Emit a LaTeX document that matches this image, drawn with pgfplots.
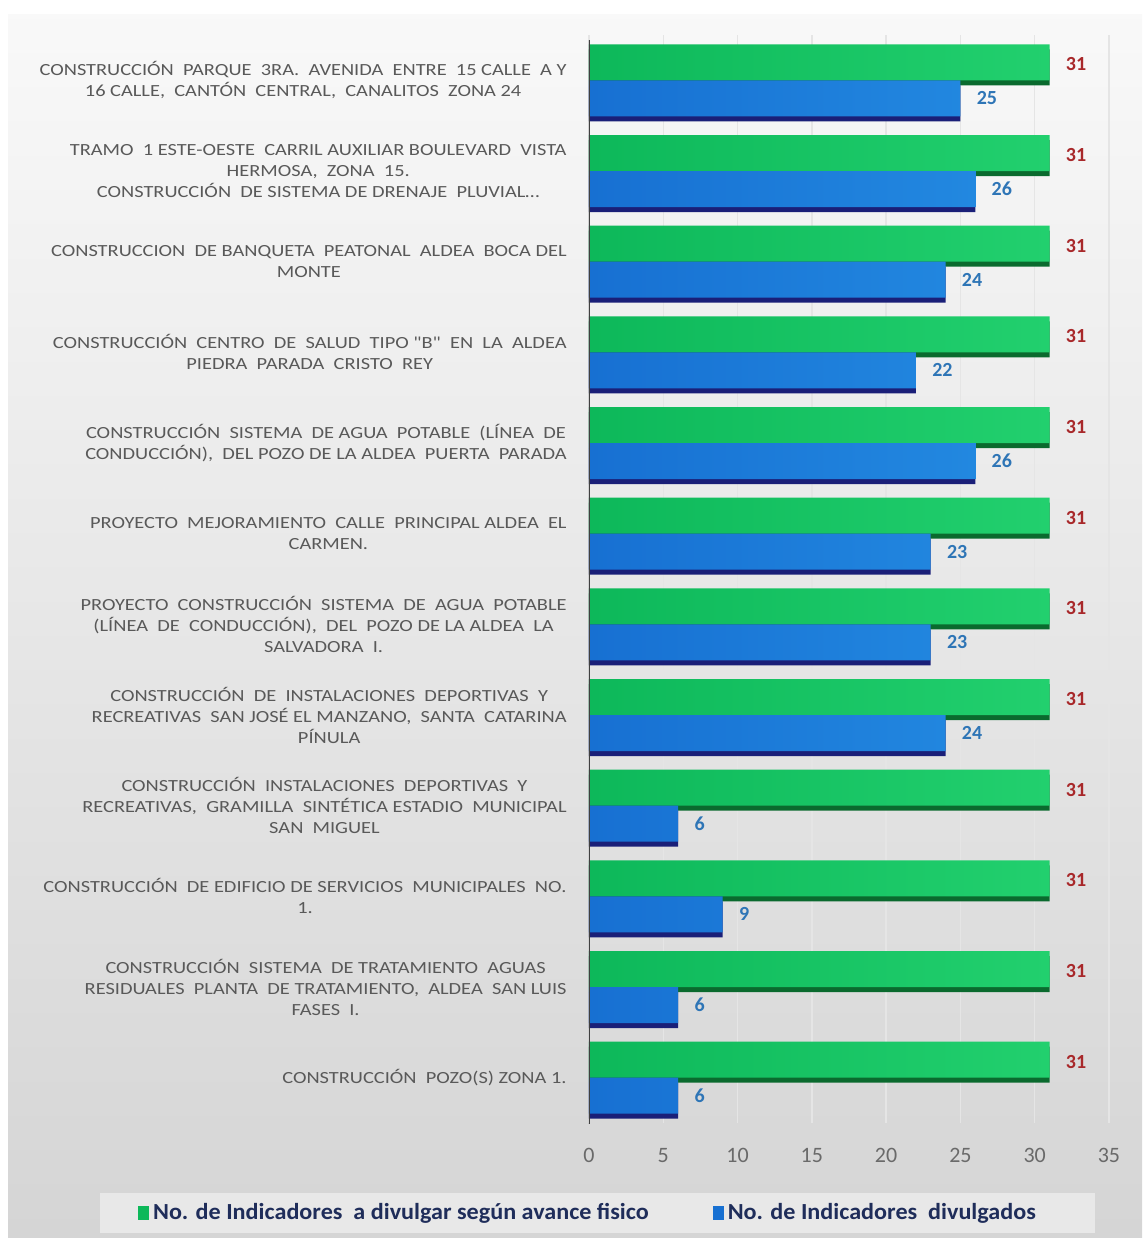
\documentclass[border=0pt]{standalone}
\usepackage{fontspec}
\setmainfont{Carlito}
\newfontfamily\lblfont{Carlito}[FakeStretch=1.2]
\newfontfamily\legfont{Carlito}[FakeStretch=1.05]
\usepackage{pgfplots}
\pgfplotsset{compat=1.18}
\definecolor{gbarL}{HTML}{0DB85A}
\definecolor{gbarR}{HTML}{22D06E}
\definecolor{gdark}{HTML}{0A6A2E}
\definecolor{bbarL}{HTML}{1770D2}
\definecolor{bbarR}{HTML}{2288E0}
\definecolor{bdark}{HTML}{1A1F78}
\definecolor{lblgray}{HTML}{595959}
\definecolor{redlbl}{HTML}{A8282A}
\definecolor{bluelbl}{HTML}{2E75B6}
\definecolor{legtext}{HTML}{1F2D5A}
\begin{document}
\begin{tikzpicture}
\useasboundingbox (0,0) rectangle (571pt,-619pt);
\fill[white] (0,0) rectangle (571pt,-619pt);
\shade[top color=gray!5, bottom color=gray!33] (4pt,-7pt) rectangle (571pt,-619pt);
\fill[gray!18] (50pt,-596.5pt) rectangle (547.5pt,-616.5pt);
\begin{axis}[
  at={(294.5pt,-561.5pt)}, anchor=south west,
  scale only axis, width=260pt, height=544pt,
  xmin=0, xmax=35, ymin=-0.5, ymax=11.5,
  xtick={0,5,...,35}, ytick={0,...,11},
  major tick length=0pt,
  axis line style={draw=none},
  xmajorgrids, grid style={white!80!gray, line width=0.7pt},
  /pgf/number format/assume math mode=true,
  xticklabel style={font=\fontsize{11}{12}\selectfont, text=lblgray!90, yshift=-9pt},
  yticklabel style={font=\lblfont\fontsize{8.5}{10.5}\selectfont, text=lblgray, align=center, inner sep=0pt, xshift=-11pt},
  yticklabels={
    {CONSTRUCCIÓN\ \ POZO(S) ZONA 1.},
    {CONSTRUCCIÓN\ \ SISTEMA\ \ DE TRATAMIENTO\ \ AGUAS\\RESIDUALES\ \ PLANTA\ \ DE TRATAMIENTO,\ \ ALDEA\ \ SAN LUIS\\FASES\ \ I.},
    {CONSTRUCCIÓN\ \ DE EDIFICIO DE SERVICIOS\ \ MUNICIPALES\ \ NO.\\1.},
    {CONSTRUCCIÓN\ \ INSTALACIONES\ \ DEPORTIVAS\ \ Y\\RECREATIVAS,\ \ GRAMILLA\ \ SINTÉTICA ESTADIO\ \ MUNICIPAL\\SAN\ \ MIGUEL},
    {CONSTRUCCIÓN\ \ DE\ \ INSTALACIONES\ \ DEPORTIVAS\ \ Y\\RECREATIVAS\ \ SAN JOSÉ EL MANZANO,\ \ SANTA\ \ CATARINA\\PÍNULA},
    {PROYECTO\ \ CONSTRUCCIÓN\ \ SISTEMA\ \ DE\ \ AGUA\ \ POTABLE\\(LÍNEA\ \ DE\ \ CONDUCCIÓN),\ \ DEL\ \ POZO DE LA ALDEA\ \ LA\\SALVADORA\ \ I.},
    {PROYECTO\ \ MEJORAMIENTO\ \ CALLE\ \ PRINCIPAL ALDEA\ \ EL\\CARMEN.},
    {CONSTRUCCIÓN\ \ SISTEMA\ \ DE AGUA\ \ POTABLE\ \ (LÍNEA\ \ DE\\CONDUCCIÓN),\ \ DEL POZO DE LA ALDEA\ \ PUERTA\ \ PARADA},
    {CONSTRUCCIÓN\ \ CENTRO\ \ DE\ \ SALUD\ \ TIPO "B"\ \ EN\ \ LA\ \ ALDEA\\PIEDRA\ \ PARADA\ \ CRISTO\ \ REY},
    {CONSTRUCCION\ \ DE BANQUETA\ \ PEATONAL\ \ ALDEA\ \ BOCA DEL\\MONTE},
    {TRAMO\ \ 1 ESTE-OESTE\ \ CARRIL AUXILIAR BOULEVARD\ \ VISTA\\HERMOSA,\ \ ZONA\ \ 15.\\CONSTRUCCIÓN\ \ DE SISTEMA DE DRENAJE\ \ PLUVIAL\ldots},
    {CONSTRUCCIÓN\ \ PARQUE\ \ 3RA.\ \ AVENIDA\ \ ENTRE\ \ 15 CALLE\ \ A Y\\16 CALLE,\ \ CANTÓN\ \ CENTRAL,\ \ CANALITOS\ \ ZONA 24}
  },
  legend columns=2,
  legend style={at={(0.0,-0.0827)}, anchor=center, draw=none, fill=none,
    font=\legfont\bfseries\fontsize{11.5}{13}\selectfont, text=legtext,
    /tikz/every even column/.append style={column sep=30pt}},
  legend image code/.code={\fill[#1, draw=none] (0pt,-3.5pt) rectangle (5.5pt,3.5pt);},
]
% shadows
\addplot[xbar, bar width=18pt, bar shift=6.5pt, fill=gdark, draw=none, forget plot]
  coordinates {(31,0) (31,1) (31,2) (31,3) (31,4) (31,5) (31,6) (31,7) (31,8) (31,9) (31,10) (31,11)};
\addplot[xbar, bar width=18pt, bar shift=-11.5pt, fill=bdark, draw=none, forget plot]
  coordinates {(6,0) (6,1) (9,2) (6,3) (24,4) (23,5) (23,6) (26,7) (22,8) (24,9) (26,10) (25,11)};
% main bars
\addplot[xbar, bar width=18pt, bar shift=9pt, left color=gbarL, right color=gbarR, draw=none, forget plot,
  nodes near coords, every node near coord/.append style={font=\bfseries\fontsize{10}{12}\selectfont, text=redlbl, anchor=west, inner sep=0pt, xshift=8pt, yshift=8pt}]
  coordinates {(31,0) (31,1) (31,2) (31,3) (31,4) (31,5) (31,6) (31,7) (31,8) (31,9) (31,10) (31,11)};
\addplot[xbar, bar width=18pt, bar shift=-9pt, left color=bbarL, right color=bbarR, draw=none, forget plot,
  nodes near coords, every node near coord/.append style={font=\bfseries\fontsize{10}{12}\selectfont, text=bluelbl, anchor=west, inner sep=0pt, xshift=8pt, yshift=-9pt}]
  coordinates {(6,0) (6,1) (9,2) (6,3) (24,4) (23,5) (23,6) (26,7) (22,8) (24,9) (26,10) (25,11)};
\draw[black!75, line width=1.2pt] (axis cs:0,-0.62) -- (axis cs:0,11.45);
\addlegendimage{fill=gbarL, draw=none}
\addlegendentry{No. de Indicadores\ \ a divulgar según avance fisico}
\addlegendimage{fill=bbarL, draw=none}
\addlegendentry{No. de Indicadores\ \ divulgados}
\end{axis}
\end{tikzpicture}
\end{document}
